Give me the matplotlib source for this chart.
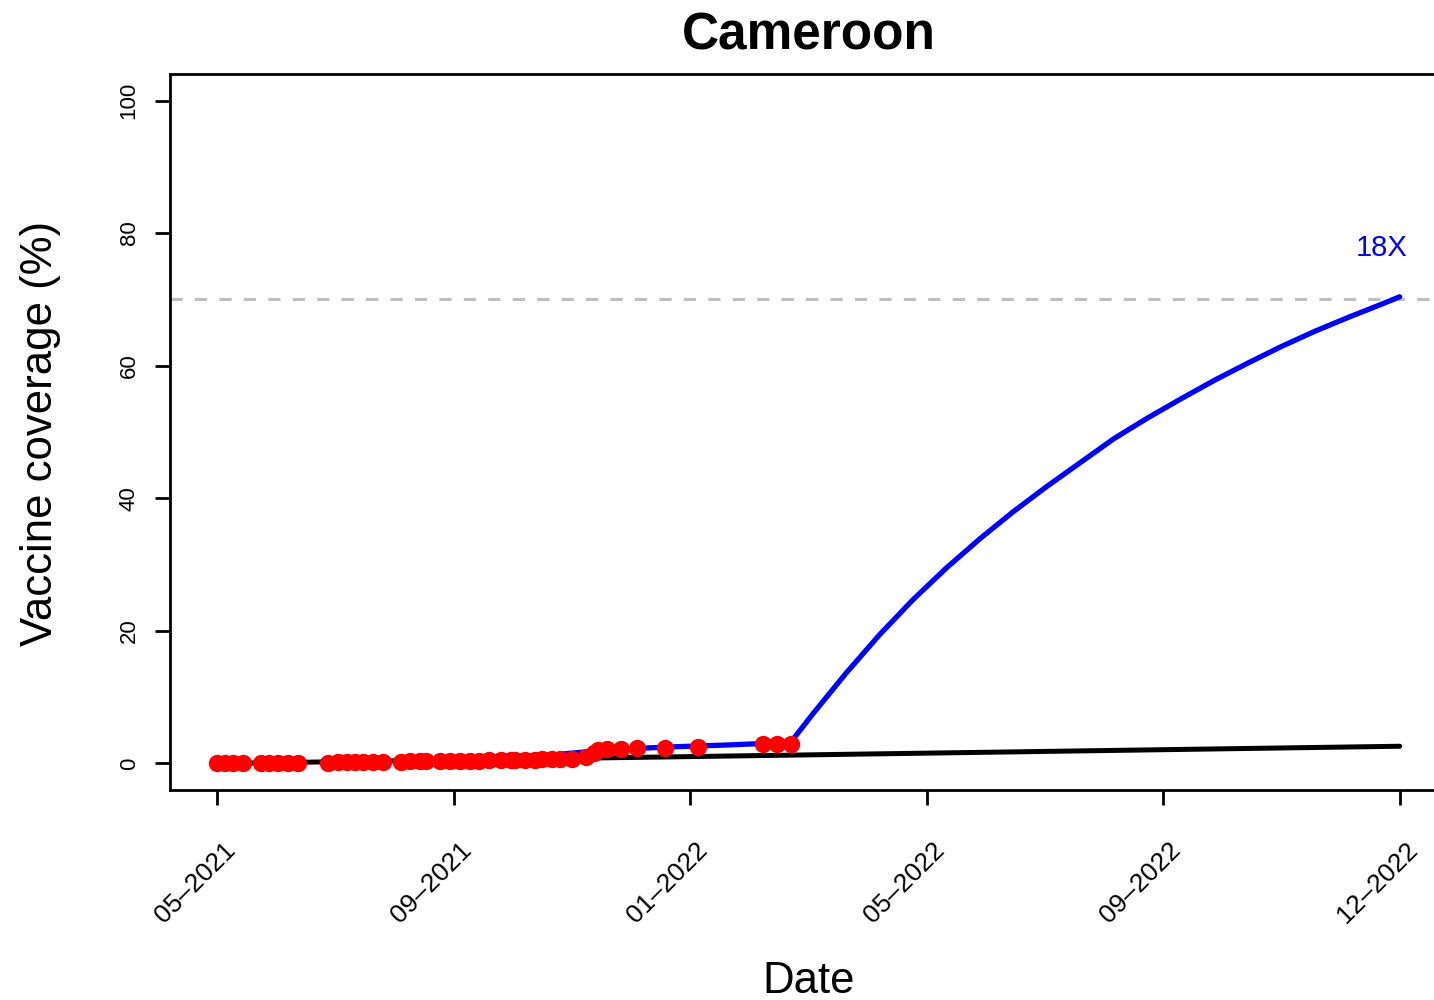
import matplotlib
matplotlib.use("Agg")
import matplotlib.pyplot as plt
from matplotlib.transforms import ScaledTranslation

plt.rcParams['font.family'] = ['Liberation Sans', 'DejaVu Sans']

# ---- data (x = days since start of series) ----
tick_days = [0, 120, 240, 360, 480, 600]
tick_labels = ["05\u20132021", "09\u20132021", "01\u20132022", "05\u20132022", "09\u20132022", "12\u20132022"]
y_ticks = [0, 20, 40, 60, 80, 100]

obs_days = [0, 4, 8, 13, 22, 26, 31, 36, 41, 56, 61, 66, 70, 74, 79, 84, 93, 98,
            103, 106, 113, 118, 123, 128, 133, 138, 144, 149, 151, 156, 161, 165,
            170, 174, 180, 187, 191, 193, 198, 205, 213, 227, 244, 277, 284, 291]
obs_vals = [0.0, 0.0, 0.0, 0.0, 0.05, 0.05, 0.05, 0.1, 0.1, 0.1, 0.15, 0.15, 0.2,
            0.2, 0.2, 0.25, 0.25, 0.3, 0.3, 0.3, 0.35, 0.35, 0.35, 0.4, 0.4, 0.45,
            0.5, 0.55, 0.55, 0.6, 0.6, 0.65, 0.7, 0.7, 0.75, 1.0, 1.6, 2.0, 2.2,
            2.2, 2.3, 2.4, 2.5, 3.0, 3.0, 3.0]

current_days = [0, 600]
current_vals = [0.0, 2.6]

scaled_days = [174, 200, 230, 260, 291, 302, 319, 336, 353, 370, 387, 404, 421,
               438, 455, 472, 489, 506, 523, 540, 557, 574, 591, 600]
scaled_vals = [1.4, 2.1, 2.5, 2.8, 3.2, 7.4, 13.6, 19.4, 24.7, 29.5, 33.9, 38.0,
               41.8, 45.4, 49.0, 52.1, 55.0, 57.8, 60.4, 62.9, 65.2, 67.3, 69.3, 70.4]

target = 70
multiplier_label = "18X"
label_pos = (591, 77.8)
title = "Cameroon"

# ---- figure ----
W, H = 1434, 1000
fig = plt.figure(figsize=(W / 100, H / 100), dpi=100)
ax = fig.add_axes([170 / W, (H - 790) / H, (1447 - 170) / W, (790 - 74) / H])

ax.axhline(target, color='#BEBEBE', lw=2.2, dashes=(4, 4), zorder=1)
ax.plot(current_days, current_vals, color='black', lw=3.6, solid_capstyle='round', zorder=2)
ax.plot(scaled_days, scaled_vals, color='#0000FF', lw=3.8, solid_capstyle='round',
        solid_joinstyle='round', zorder=3)
ax.plot(obs_days, obs_vals, 'o', color='#FF0000', ms=12.5, mec='none', zorder=4)
ax.text(label_pos[0], label_pos[1], multiplier_label, color='#0000FF', fontsize=21,
        ha='center', va='center')

ax.set_xlim(-24, 624)
ax.set_ylim(-4, 104)
ax.set_yticks(y_ticks)
ax.set_yticklabels([str(v) for v in y_ticks], rotation=90, va='center', fontsize=16)
ax.set_xticks(tick_days)
ax.set_xticklabels(tick_labels, rotation=45, ha='right', va='center',
                   rotation_mode='anchor', fontsize=19)
ax.tick_params(axis='both', length=10.8, width=2, color='black')
ax.tick_params(axis='y', pad=11)
ax.tick_params(axis='x', pad=30)
for lab in ax.get_xticklabels():
    lab.set_transform(lab.get_transform() + ScaledTranslation(0.14, 0, fig.dpi_scale_trans))
for sp in ax.spines.values():
    sp.set_linewidth(2)
    sp.set_color('black')

fig.text(809 / W, 1 - 50 / H, title, ha='center', va='baseline', fontsize=37, fontweight='bold')
fig.text(809 / W, 1 - 993 / H, "Date", ha='center', va='baseline', fontsize=31.5)
fig.text(41 / W, 1 - 433 / H, "Vaccine coverage (%)", ha='center', va='center',
         rotation=90, fontsize=31.5)

fig.savefig("out.png", dpi=100)
